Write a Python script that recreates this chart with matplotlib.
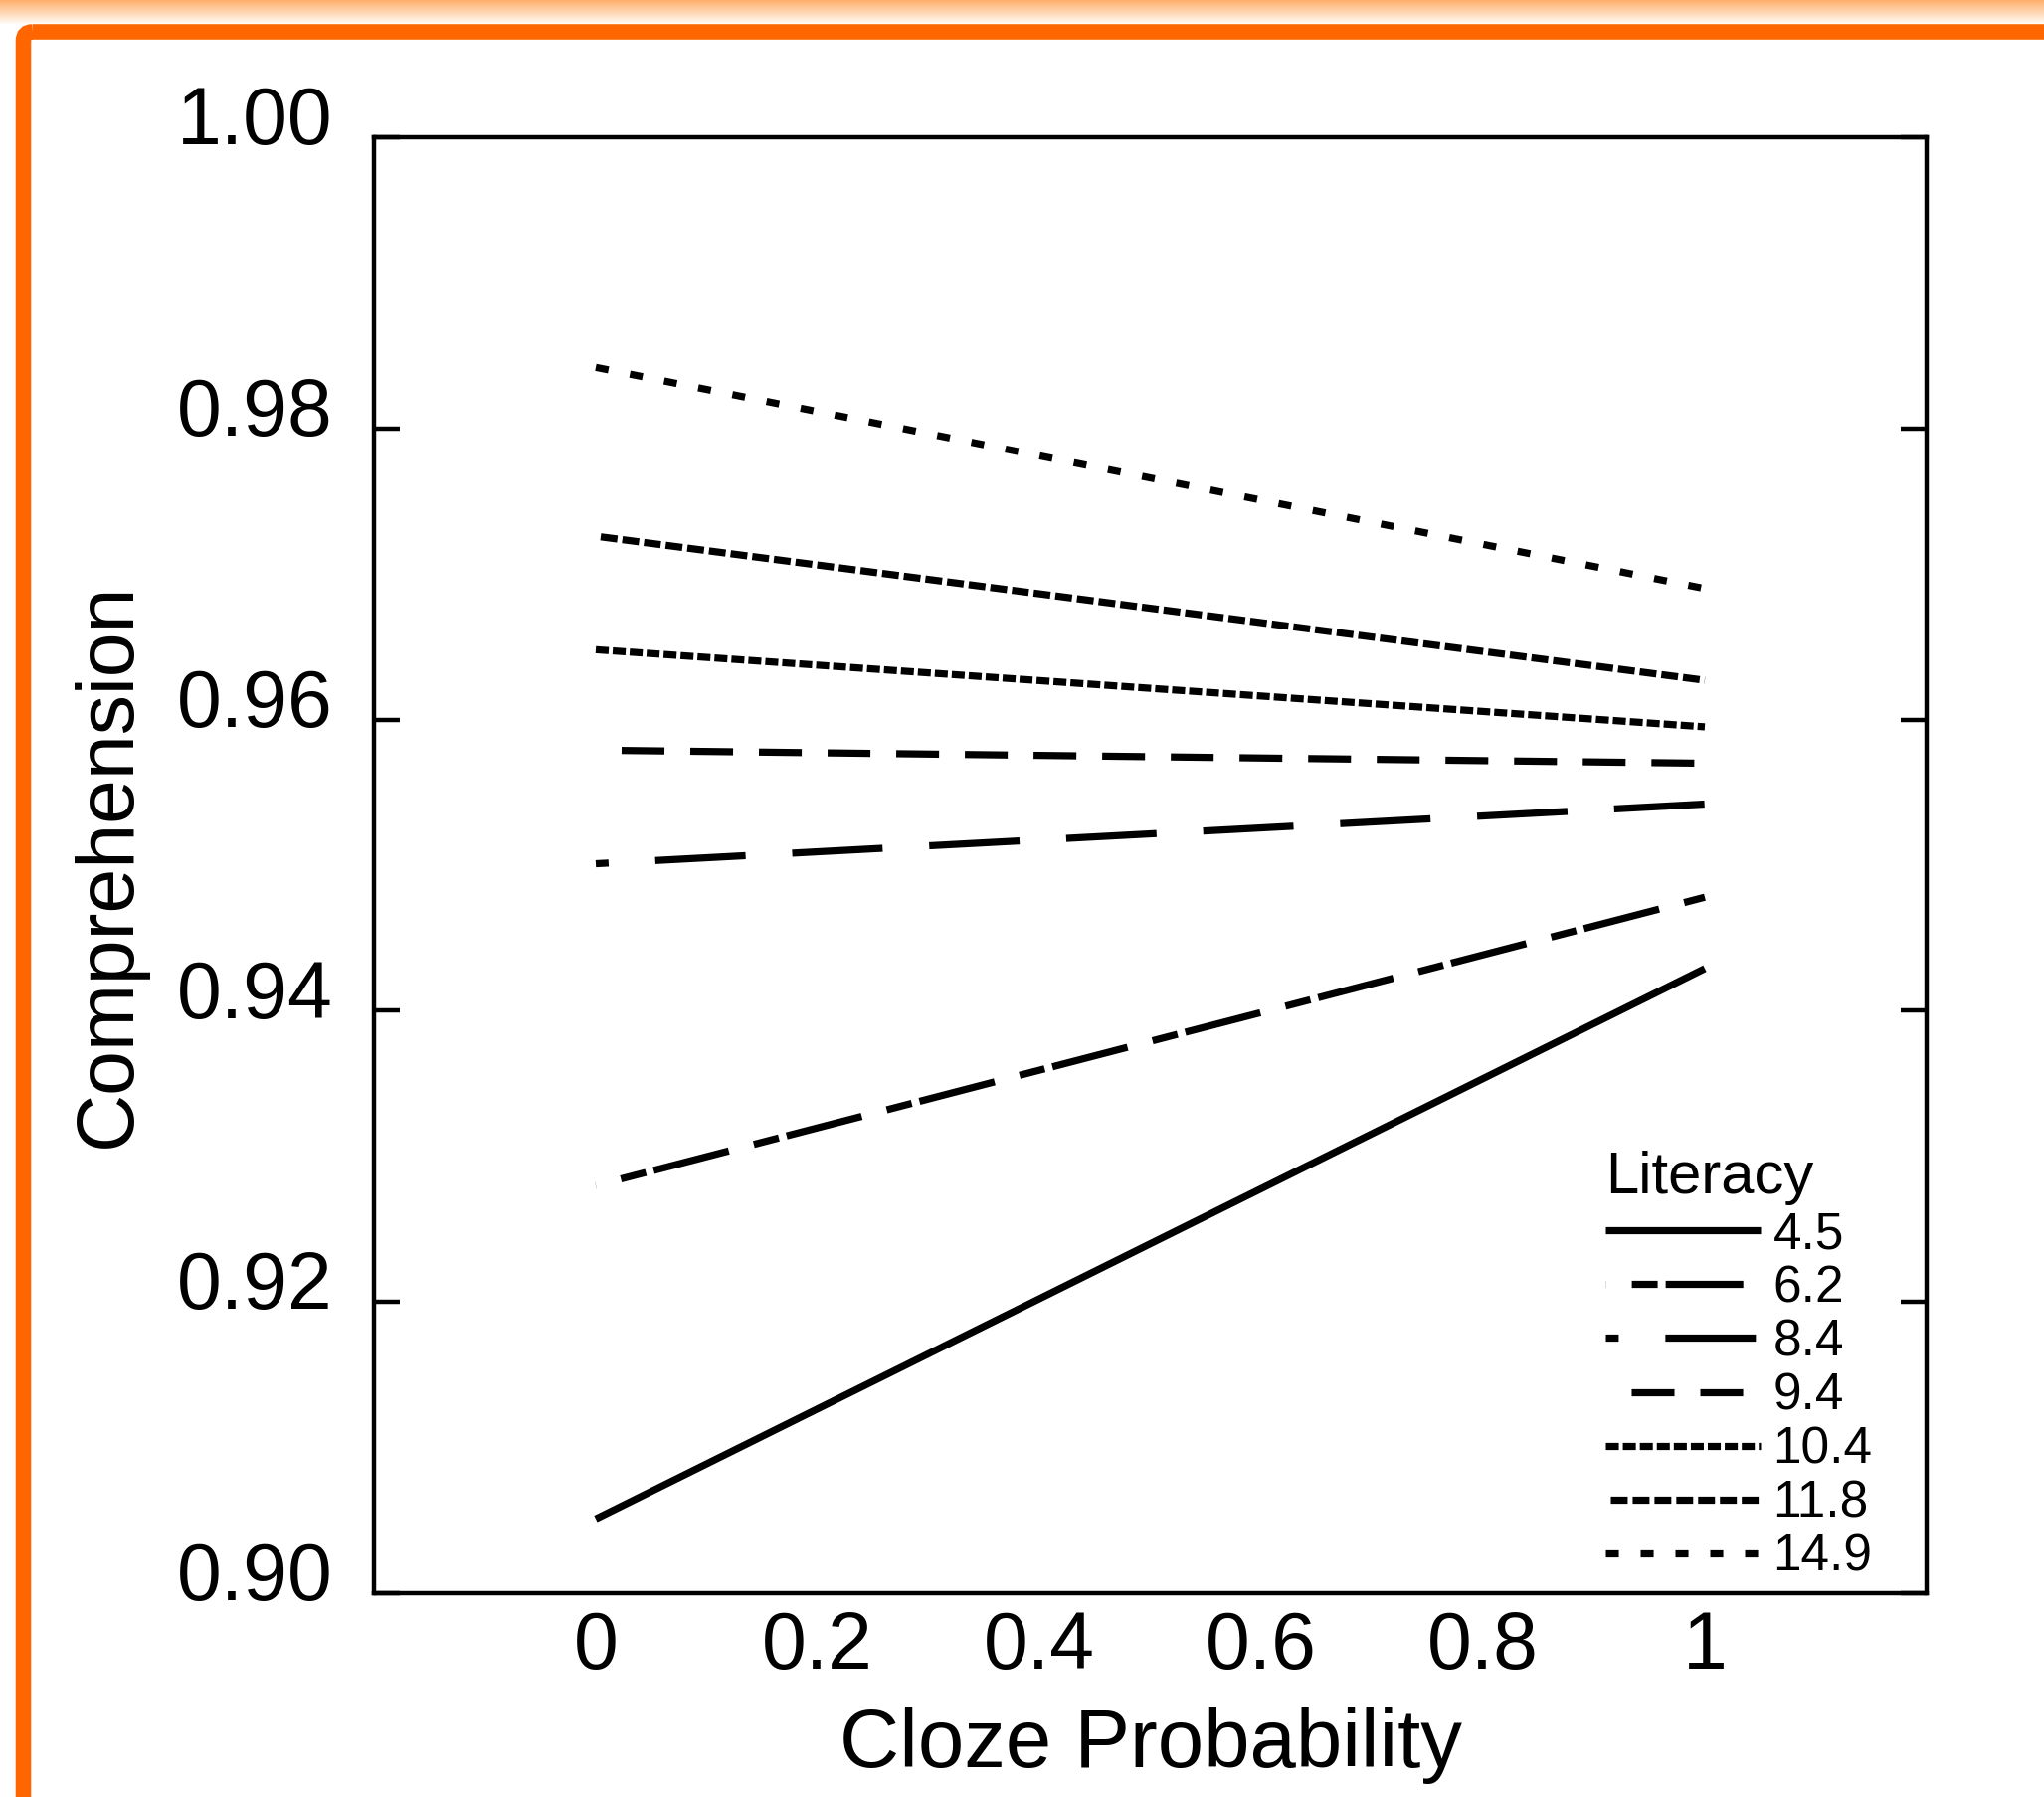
import numpy as np
import matplotlib
matplotlib.use("Agg")
import matplotlib.pyplot as plt
import matplotlib.transforms as mtransforms
from matplotlib.patches import FancyBboxPatch

plt.rcParams['font.family'] = ['Liberation Sans', 'DejaVu Sans']
plt.rcParams['lines.scale_dashes'] = False

# data
literacy = ['4.5', '6.2', '8.4', '9.4', '10.4', '11.8', '14.9']
cloze = [0, 1]
comp_at_0 = [0.9051, 0.9280, 0.9501, 0.9579, 0.9648, 0.9726, 0.9842]
comp_at_1 = [0.9429, 0.9478, 0.9542, 0.9570, 0.9595, 0.9627, 0.9690]
x_ticks = [0, 0.2, 0.4, 0.6, 0.8, 1]
x_ticklabels = ['0', '0.2', '0.4', '0.6', '0.8', '1']
y_ticks = [0.90, 0.92, 0.94, 0.96, 0.98, 1.00]

# dash patterns (points), one per literacy level
dashes = [
    None,
    (80.6, (18.7, 5.8, 56.2, 18.7)),
    (56.2, (65.5, 33.8)),
    (31.0, (31.0, 18.7)),
    (0, (9.4, 2.9)),
    (12.2, (12.2, 3.6)),
    (0, (9.4, 15.8)),
]

W, H = 2055, 1807
fig = plt.figure(figsize=(W / 100, H / 100), dpi=100)

# orange frame of the slide
bg = fig.add_axes([0, 0, 1, 1], zorder=-1)
bg.set_xlim(0, W)
bg.set_ylim(H, 0)
bg.axis('off')
grad = np.linspace(0, 1, 24)[:, None, None]
top = np.array([1.0, 0.69, 0.43])
bottom = np.array([1.0, 0.98, 0.96])
img = top * (1 - grad) + bottom * grad
img = np.repeat(img, 2, axis=1)
bg.imshow(img, extent=[0, W, 24, 0], aspect='auto', interpolation='bilinear')
frame = FancyBboxPatch((23.5, 32), W + 100, H + 100,
                       boxstyle="round,pad=0,rounding_size=9",
                       fill=False, edgecolor='#FF6600', linewidth=11.2)
bg.add_patch(frame)

ax = fig.add_axes([376 / W, 1 - 1602 / H, (1937 - 376) / W, (1602 - 138) / H])

for i, lab in enumerate(literacy):
    line, = ax.plot(cloze, [comp_at_0[i], comp_at_1[i]], color='black',
                    lw=5.2, label=lab, solid_capstyle='butt')
    if dashes[i] is not None:
        line.set_linestyle(dashes[i])

ax.set_xlim(-0.2, 1.2)
ax.set_ylim(0.90, 1.00)
ax.set_xticks(x_ticks)
ax.set_xticklabels(x_ticklabels)
ax.set_yticks(y_ticks)
ax.set_yticklabels(['%.2f' % v for v in y_ticks])

for s in ax.spines.values():
    s.set_linewidth(3.2)
ax.tick_params(axis='y', direction='in', length=19, width=3.2,
               left=True, right=True, labelsize=58, pad=30)
ax.tick_params(axis='x', length=0, labelsize=58, pad=12)

off = mtransforms.ScaledTranslation(0, 16 / 72, fig.dpi_scale_trans)
for t in ax.get_yticklabels():
    t.set_transform(t.get_transform() + off)

ax.set_xlabel('Cloze Probability', fontsize=60, labelpad=15)
ax.set_ylabel('Comprehension', fontsize=58)
ax.yaxis.set_label_coords(-0.146, 0.5)

leg = ax.legend(title='Literacy', loc='upper left', frameon=False,
                bbox_to_anchor=(1614 / W, 1 - 1157 / H),
                bbox_transform=fig.transFigure,
                fontsize=37, title_fontsize=43, handlelength=3.03,
                handletextpad=0.25, labelspacing=0.1, borderpad=0,
                borderaxespad=0, alignment='left')

fig.savefig('out.png', dpi=100, facecolor='white')
